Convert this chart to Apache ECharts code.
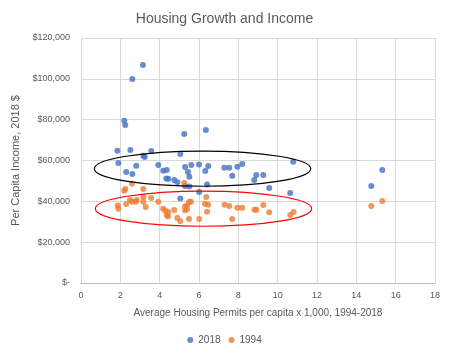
<!DOCTYPE html>
<html>
<head>
<meta charset="utf-8">
<script src="https://cdn.jsdelivr.net/npm/echarts@6/dist/echarts.min.js"></script>
<style>
  html, body { margin: 0; padding: 0; background: #fff; }
  #chart { width: 449px; height: 354px; }
</style>
</head>
<body>
<div id="chart"></div>
<script>
// permits per capita x 1,000 (x) and income in $ (y), one array each per series
var permits2018 = [3.15, 2.61, 2.20, 2.25, 5.25, 6.35, 1.85, 2.51, 3.17, 3.24, 3.57, 5.05,
	1.90, 2.81, 2.30, 2.61, 3.93, 4.18, 4.36, 4.34, 4.44, 4.74, 4.90, 5.29, 5.61, 5.44,
	5.51, 5.29, 5.51, 6.00, 6.47, 6.32, 6.41, 6.01, 5.05, 7.29, 7.54, 7.95, 8.20, 7.69,
	8.91, 9.27, 8.81, 9.57, 10.64, 10.79, 14.76, 15.32];
var income2018 = [106800, 99900, 79500, 77400, 73000, 74900, 64800, 65100, 62300, 61700, 64600, 63200,
	58800, 57400, 54400, 53400, 57800, 55000, 55300, 51200, 51100, 50400, 49300, 56800, 57800, 54400,
	52100, 47500, 47300, 58100, 57300, 54800, 48300, 44600, 41400, 56500, 56500, 57000, 58300, 52500,
	52900, 52900, 50400, 46500, 44100, 59400, 47500, 55300];

var permits1994 = [2.59, 2.25, 2.20, 3.17, 1.87, 1.90, 2.30, 2.49, 2.59, 2.78, 2.83, 3.17, 3.17,
	3.57, 3.93, 3.29, 4.18, 4.29, 4.44, 4.36, 4.42, 4.74, 4.90, 5.05, 5.25, 5.29, 5.39, 5.49,
	5.59, 5.29, 5.39, 5.49, 6.01, 6.37, 6.30, 6.47, 6.41, 7.30, 7.54, 7.95, 8.20, 7.69, 8.82,
	8.92, 9.27, 9.57, 10.64, 10.81, 14.76, 15.32];
var income1994 = [48600, 46000, 45200, 46000, 37900, 36400, 38700, 40600, 39800, 39800, 40600, 42100, 39800,
	41600, 39800, 37200, 36400, 35400, 34800, 33300, 32600, 35700, 31800, 30200, 49000, 37500, 38000, 39700,
	39800, 35600, 36000, 31300, 31300, 42100, 38800, 38300, 34900, 38300, 37700, 36900, 36900, 31300, 35900,
	35900, 38200, 34600, 33300, 34800, 37700, 40200];

var yTicks = [0, 20000, 40000, 60000, 80000, 100000, 120000];
var xTicks = [0, 2, 4, 6, 8, 10, 12, 14, 16, 18];

// hand drawn ovals, in data units: [cx, cy, rx, ry]
var ovalTop = [6.18, 56000, 5.5, 8600];
var ovalBottom = [6.23, 36400, 5.5, 8600];

function pairs(xs, ys) {
	var out = [];
	for (var i = 0; i < xs.length; i++) out.push([xs[i], ys[i]]);
	return out;
}

function money(v) {
	if (v === 0) return '$-';
	return '$' + v.toLocaleString('en-US');
}

var font = 'Liberation Sans, Arial, sans-serif';
var gridColor = '#d9d9d9';
var txt = '#595959';

var myChart = echarts.init(document.getElementById('chart'));
var opt = {
	animation: false,
	textStyle: { fontFamily: font },
	title: {
		text: 'Housing Growth and Income',
		left: 'center',
		top: 7,
		textStyle: { fontSize: 14, fontWeight: 'normal', color: txt, fontFamily: font }
	},
	legend: {
		bottom: 4,
		left: 'center',
		icon: 'circle',
		itemWidth: 6,
		itemHeight: 6,
		itemGap: 8,
		textStyle: { fontSize: 10, color: txt },
		data: ['2018', '1994']
	},
	grid: { left: 81, right: 14, top: 38, bottom: 71 },
	xAxis: {
		type: 'value',
		min: xTicks[0],
		max: xTicks[xTicks.length - 1],
		interval: 2,
		name: 'Average Housing Permits per capita x 1,000, 1994-2018',
		nameLocation: 'middle',
		nameGap: 25,
		nameTextStyle: { fontSize: 10, color: txt },
		axisLine: { lineStyle: { color: '#bfbfbf' } },
		axisTick: { show: false },
		axisLabel: { fontSize: 9, color: txt, margin: 8 },
		splitLine: { show: true, lineStyle: { color: gridColor } }
	},
	yAxis: {
		type: 'value',
		min: yTicks[0],
		max: yTicks[yTicks.length - 1],
		interval: 20000,
		name: 'Per Capita Income, 2018 $',
		nameLocation: 'middle',
		nameGap: 57,
		nameTextStyle: { fontSize: 11, color: txt },
		axisLine: { show: false },
		axisTick: { show: false },
		axisLabel: { fontSize: 9, color: txt, margin: 11, formatter: money },
		splitLine: { show: true, lineStyle: { color: gridColor } }
	},
	series: [
		{
			name: '2018',
			type: 'scatter',
			symbol: 'circle',
			symbolSize: 6,
			itemStyle: { color: '#4472C4' },
			data: pairs(permits2018, income2018)
		},
		{
			name: '1994',
			type: 'scatter',
			symbol: 'circle',
			symbolSize: 6,
			itemStyle: { color: '#ED7D31' },
			data: pairs(permits1994, income1994)
		}
	]
};
myChart.setOption(opt);

// ovals go on top, placed through the grid's own scales
function oval(o, color) {
	var c = myChart.convertToPixel({ gridIndex: 0 }, [o[0], o[1]]);
	var e = myChart.convertToPixel({ gridIndex: 0 }, [o[0] + o[2], o[1] + o[3]]);
	return {
		type: 'ellipse',
		shape: { cx: c[0], cy: c[1], rx: Math.abs(e[0] - c[0]), ry: Math.abs(c[1] - e[1]) },
		style: { fill: null, stroke: color, lineWidth: 1.2 },
		z: 100
	};
}
myChart.setOption({
	graphic: [oval(ovalTop, '#000000'), oval(ovalBottom, '#ff0000')]
});
</script>
</body>
</html>
